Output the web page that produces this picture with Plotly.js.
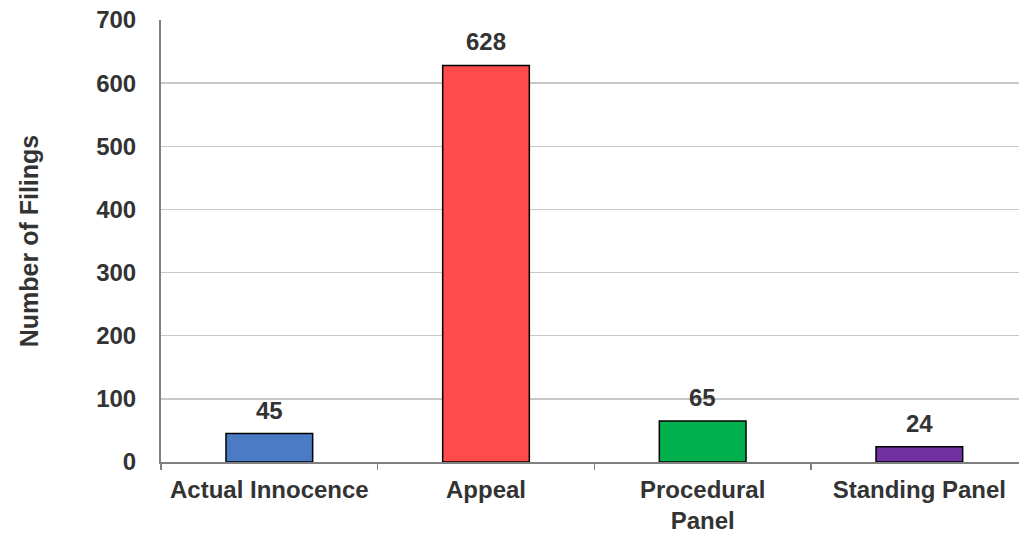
<!DOCTYPE html>
<html>
<head>
<meta charset="utf-8">
<script src="https://cdn.plot.ly/plotly-3.0.1.min.js"></script>
<style>html,body{margin:0;padding:0;background:#fff;}#chart{width:1019px;height:533px;}</style>
</head>
<body>
<div id="chart"></div>
<script>
var categories = ["Actual Innocence", "Appeal", "Procedural<br>Panel", "Standing Panel"];
var values = [45, 628, 65, 24];
var colors = ["#4a7bc4", "#ff4b4b", "#00b04f", "#7030a0"];
var yTicks = [0, 100, 200, 300, 400, 500, 600, 700];

var font = "Liberation Sans, Arial, sans-serif";
var trace = {
  type: "bar",
  x: categories,
  y: values,
  width: 0.4,
  marker: {color: colors, line: {color: "#000", width: 1.5}},
  hoverinfo: "none"
};
var annotations = categories.map(function (c, i) {
  return {
    x: c, y: values[i], xref: "x", yref: "y",
    text: String(values[i]), showarrow: false,
    yanchor: "bottom", yshift: 8,
    font: {family: font, size: 24, color: "#333", weight: "bold"}
  };
});
var layout = {
  width: 1019, height: 533,
  margin: {l: 161, r: 0, t: 20, b: 71},
  paper_bgcolor: "#fff", plot_bgcolor: "#fff",
  showlegend: false,
  font: {family: font, color: "#333"},
  annotations: annotations,
  xaxis: {
    type: "category",
    range: [-0.5, 3.46],
    tickson: "boundaries",
    ticks: "outside", ticklen: 6, tickcolor: "#808080", tickwidth: 1.5,
    ticklabelstandoff: 5,
    showgrid: false,
    showline: true, linecolor: "#808080", linewidth: 2,
    tickfont: {family: font, size: 24, color: "#333", weight: "bold"},
    fixedrange: true
  },
  yaxis: {
    range: [0, 700],
    tickvals: yTicks,
    ticktext: yTicks.map(String),
    showgrid: true, gridcolor: "#c8c8c8", gridwidth: 1.5,
    zeroline: false,
    showline: true, linecolor: "#808080", linewidth: 2,
    ticks: "", ticklabelstandoff: 18,
    tickfont: {family: font, size: 24, color: "#333", weight: "bold"},
    title: {text: "Number of Filings", standoff: 50, font: {family: font, size: 25, color: "#333", weight: "bold"}},
    fixedrange: true
  }
};
Plotly.newPlot("chart", [trace], layout, {staticPlot: true});
</script>
</body>
</html>
